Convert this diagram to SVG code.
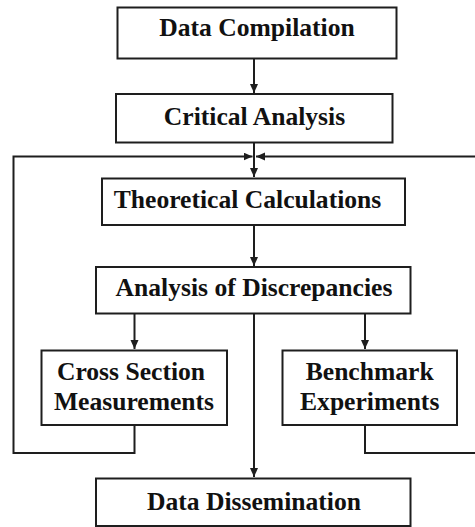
<svg xmlns="http://www.w3.org/2000/svg" width="475" height="527" viewBox="0 0 475 527">
  <style>
    .box { fill: #ffffff; stroke: #1e1e1e; stroke-width: 2; }
    .lbl { font-family: "Liberation Serif", "Times New Roman", serif; font-weight: bold; font-size: 25.6px; fill: #111111; text-anchor: middle; }
    .wire { fill: none; stroke: #1e1e1e; stroke-width: 2; }
  </style>
  <defs>
    <marker id="arrow" markerUnits="userSpaceOnUse" markerWidth="10" markerHeight="9" refX="9" refY="4" orient="auto">
      <path d="M0,0 L9,4 L0,8 Z" fill="#1e1e1e"/>
    </marker>
  </defs>

  <rect x="0" y="0" width="475" height="527" fill="#ffffff"/>

  <g id="connectors">
    <line class="wire" x1="254" y1="59" x2="254" y2="93" marker-end="url(#arrow)"/>
    <line class="wire" x1="254" y1="143" x2="254" y2="177" marker-end="url(#arrow)"/>
    <line class="wire" x1="254" y1="226" x2="254" y2="266" marker-end="url(#arrow)"/>
    <line class="wire" x1="134.5" y1="314" x2="134.5" y2="349" marker-end="url(#arrow)"/>
    <line class="wire" x1="365" y1="314" x2="365" y2="349" marker-end="url(#arrow)"/>
    <line class="wire" x1="254" y1="314" x2="254" y2="477" marker-end="url(#arrow)"/>
    <!-- feedback from cross section measurements -->
    <polyline class="wire" points="134.5,426 134.5,453 13.5,453 13.5,156.5 252.5,156.5" marker-end="url(#arrow)"/>
    <!-- feedback from benchmark experiments -->
    <polyline class="wire" points="365,426 365,453 478,453 478,156.5 256,156.5" marker-end="url(#arrow)"/>
  </g>

  <g id="data-compilation">
    <rect class="box" x="117.5" y="7.5" width="279" height="51"/>
    <text class="lbl" x="257" y="36">Data Compilation</text>
  </g>
  <g id="critical-analysis">
    <rect class="box" x="116" y="94" width="276.5" height="48.5"/>
    <text class="lbl" x="254.5" y="124.5">Critical Analysis</text>
  </g>
  <g id="theoretical-calculations">
    <rect class="box" x="102" y="178.5" width="303" height="46.5"/>
    <text class="lbl" x="247.5" y="208">Theoretical Calculations</text>
  </g>
  <g id="analysis-of-discrepancies">
    <rect class="box" x="96" y="267" width="314.5" height="46.5"/>
    <text class="lbl" x="254" y="296">Analysis of Discrepancies</text>
  </g>
  <g id="cross-section-measurements">
    <rect class="box" x="41.5" y="350.5" width="185.5" height="74.5"/>
    <text class="lbl" x="131" y="380">Cross Section</text>
    <text class="lbl" x="134" y="410">Measurements</text>
  </g>
  <g id="benchmark-experiments">
    <rect class="box" x="282.5" y="350.5" width="174.5" height="74.5"/>
    <text class="lbl" x="369.7" y="380">Benchmark</text>
    <text class="lbl" x="369.7" y="410">Experiments</text>
  </g>
  <g id="data-dissemination">
    <rect class="box" x="96" y="478.5" width="314.5" height="47.5"/>
    <text class="lbl" x="254" y="510">Data Dissemination</text>
  </g>
</svg>
